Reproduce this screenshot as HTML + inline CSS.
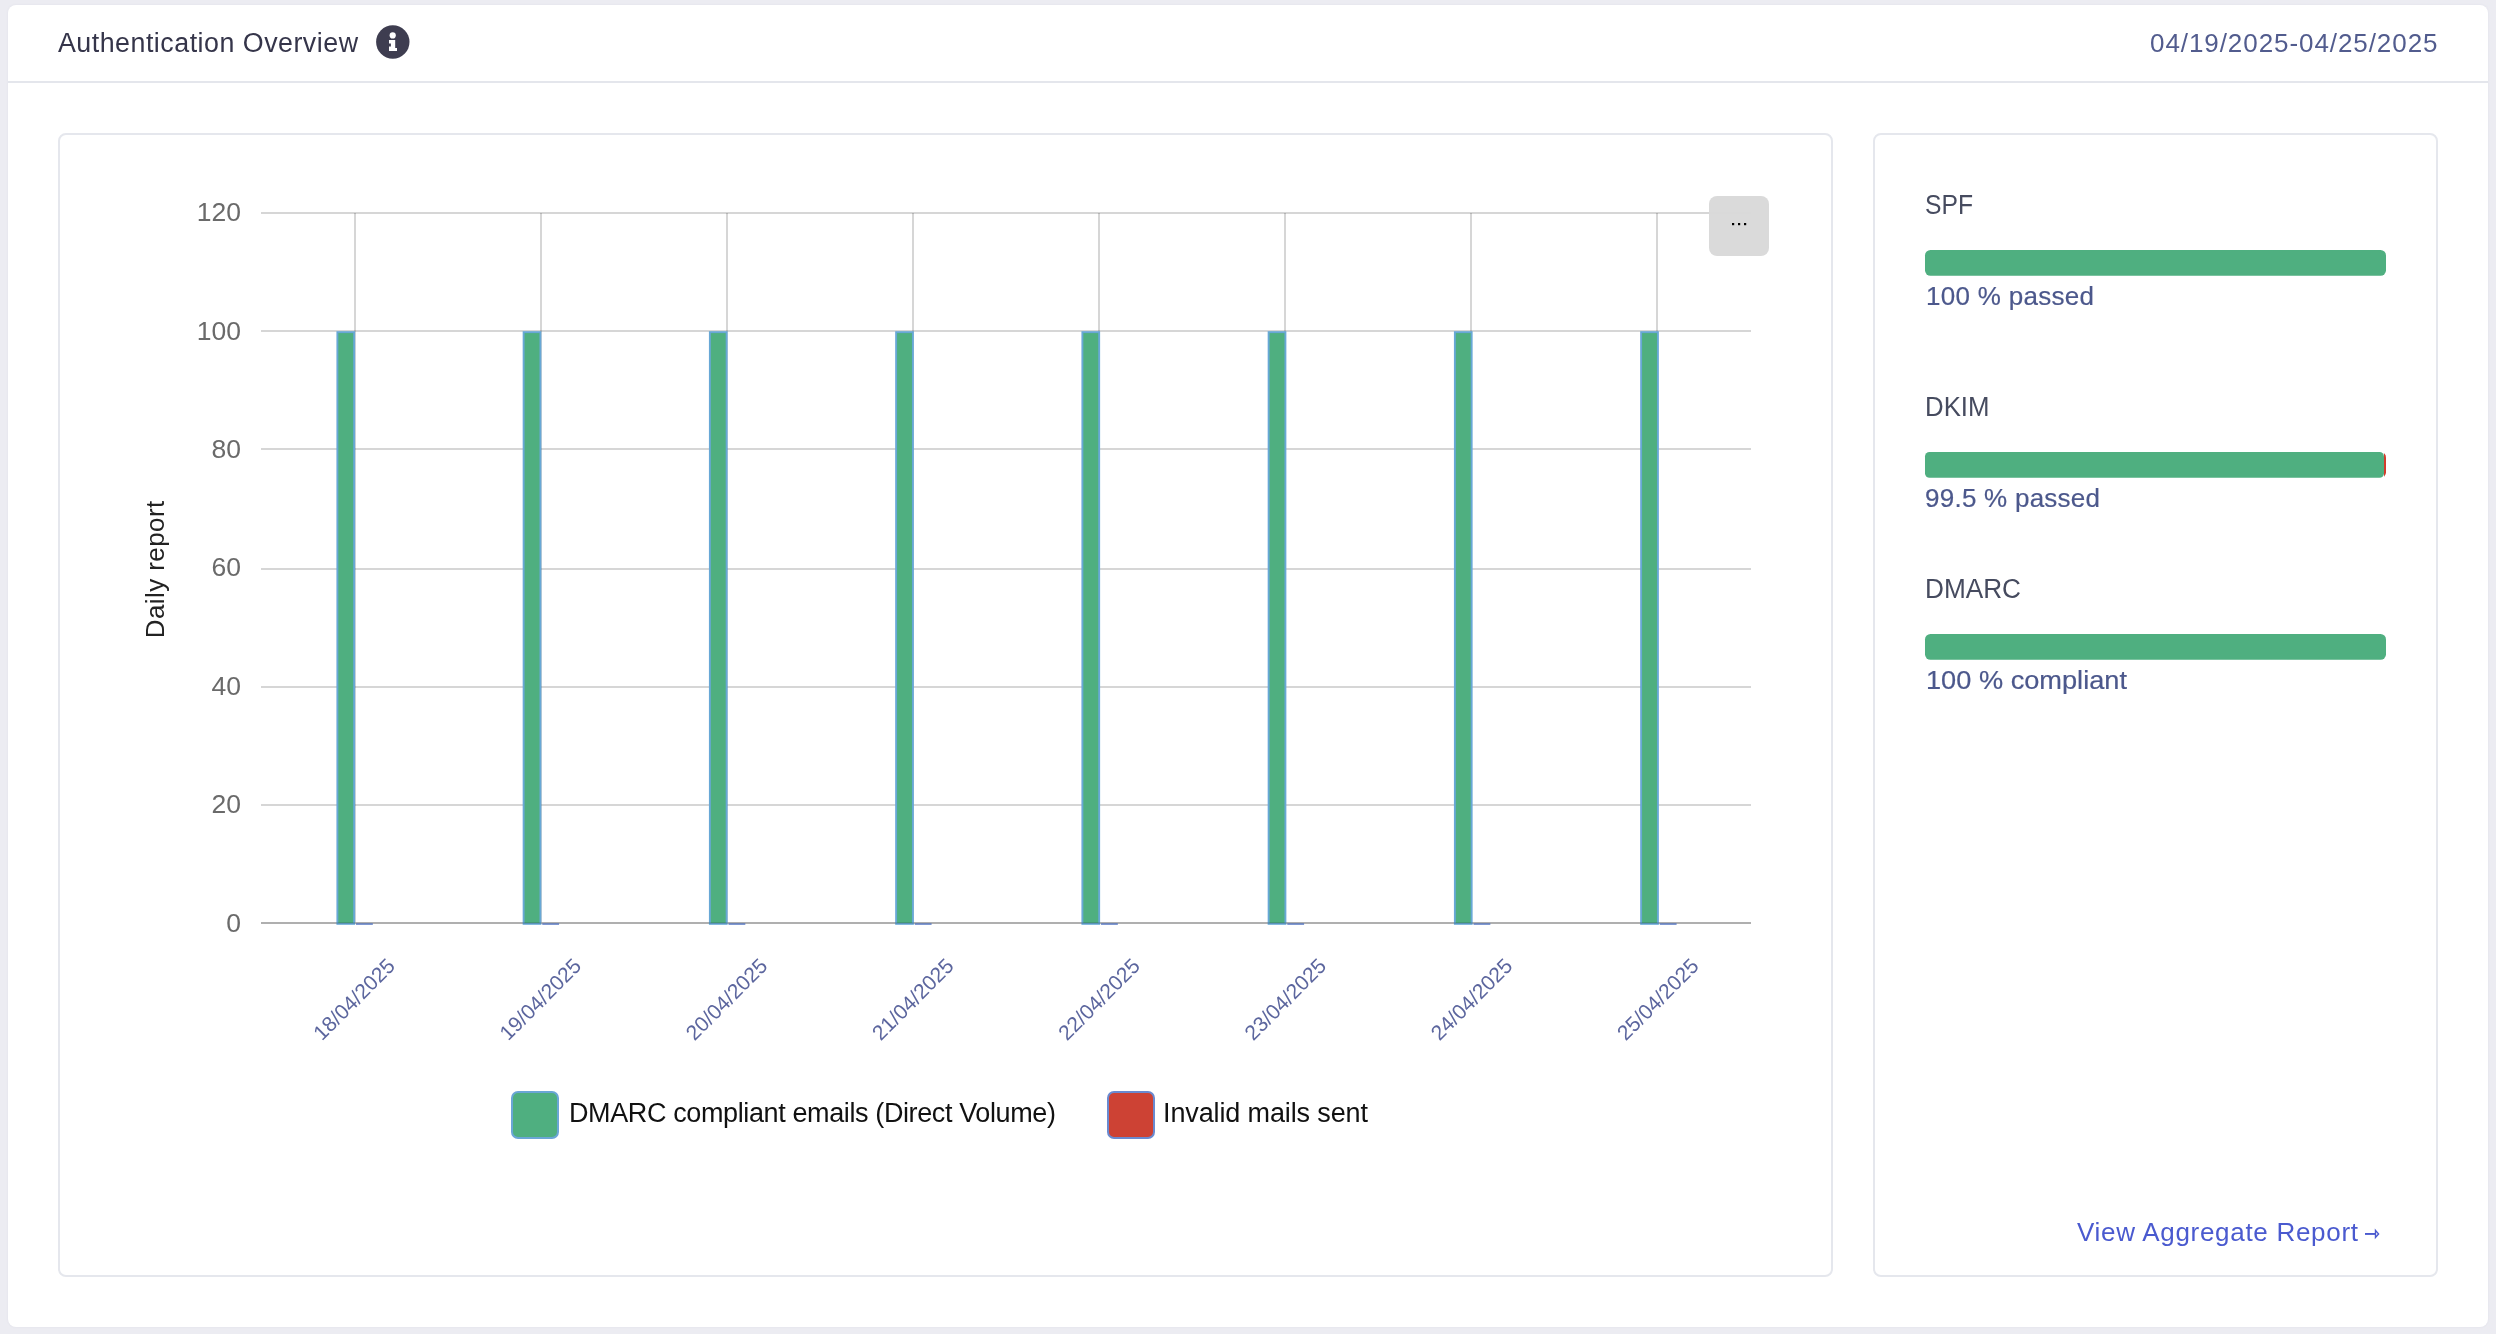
<!DOCTYPE html>
<html>
<head>
<meta charset="utf-8">
<style>
html,body{margin:0;padding:0;width:2496px;height:1334px;overflow:hidden;background:#ececf2;}
body{position:relative;font-family:"Liberation Sans",sans-serif;}
#card{position:absolute;left:8px;top:5px;width:2480px;height:1322px;background:#fff;border-radius:8px;box-shadow:0 0 3px rgba(40,40,80,0.05);}
svg{position:absolute;left:0;top:0;will-change:transform;}
text{font-family:"Liberation Sans",sans-serif;}
</style>
</head>
<body>
<div id="card"></div>
<svg width="2496" height="1334" viewBox="0 0 2496 1334">
  <!-- header -->
  <text x="58" y="52" font-size="26.8" fill="#35354a" textLength="300" lengthAdjust="spacing">Authentication Overview</text>
  <g>
    <circle cx="392.8" cy="42" r="16.7" fill="#3e3d50"/>
    <circle cx="392.7" cy="35.4" r="3.1" fill="#fff"/>
    <path d="M389,40.1 H395.2 V48 H397 V51 H389 V46.5 H390.9 V43.5 H389 Z" fill="#fff"/>
  </g>
  <text x="2437.5" y="52" font-size="26" fill="#525c8e" text-anchor="end" textLength="287.5" lengthAdjust="spacing">04/19/2025-04/25/2025</text>
  <rect x="8" y="81" width="2480" height="2" fill="#e4e6ec"/>

  <!-- chart card -->
  <rect x="59" y="134" width="1773" height="1142" rx="7" ry="7" fill="#fff" stroke="#e5e7ed" stroke-width="2"/>
  <!-- right card -->
  <rect x="1874" y="134" width="563" height="1142" rx="7" ry="7" fill="#fff" stroke="#e5e7ed" stroke-width="2"/>

  <!-- chart gridlines -->
  <g id="grid" fill="rgba(0,0,0,0.16)" shape-rendering="crispEdges">
    <rect x="261" y="212" width="1490" height="2"/>
    <rect x="261" y="330" width="1490" height="2"/>
    <rect x="261" y="448" width="1490" height="2"/>
    <rect x="261" y="568" width="1490" height="2"/>
    <rect x="261" y="686" width="1490" height="2"/>
    <rect x="261" y="804" width="1490" height="2"/>
    <rect x="354" y="213" width="2" height="709"/>
    <rect x="540" y="213" width="2" height="709"/>
    <rect x="726" y="213" width="2" height="709"/>
    <rect x="912" y="213" width="2" height="709"/>
    <rect x="1098" y="213" width="2" height="709"/>
    <rect x="1284" y="213" width="2" height="709"/>
    <rect x="1470" y="213" width="2" height="709"/>
    <rect x="1656" y="213" width="2" height="709"/>
  </g>
  <!-- y labels -->
  <g font-size="26.5" fill="#6a6a6a" text-anchor="end">
    <text x="241" y="221.2">120</text>
    <text x="241" y="339.6">100</text>
    <text x="241" y="458.0">80</text>
    <text x="241" y="576.4">60</text>
    <text x="241" y="694.8">40</text>
    <text x="241" y="813.2">20</text>
    <text x="241" y="931.6">0</text>
  </g>
  <text transform="translate(164,569.5) rotate(-90)" font-size="26" fill="#222" text-anchor="middle" textLength="137.5" lengthAdjust="spacing">Daily report</text>

  <rect x="261" y="922" width="1490" height="2" fill="#cacaca" shape-rendering="crispEdges"/>
  <!-- bars -->
  <g id="bars">
    <rect x="336.43" y="331.2" width="18.70" height="593.6" fill="#68a8d6"/><rect x="338.32" y="333.1" width="14.90" height="589.8" fill="#4faf80"/><rect x="356.02" y="923" width="16.8" height="2" fill="#7f98d2"/>
    <rect x="522.67" y="331.2" width="18.70" height="593.6" fill="#68a8d6"/><rect x="524.57" y="333.1" width="14.90" height="589.8" fill="#4faf80"/><rect x="542.27" y="923" width="16.8" height="2" fill="#7f98d2"/>
    <rect x="708.92" y="331.2" width="18.70" height="593.6" fill="#68a8d6"/><rect x="710.82" y="333.1" width="14.90" height="589.8" fill="#4faf80"/><rect x="728.52" y="923" width="16.8" height="2" fill="#7f98d2"/>
    <rect x="895.17" y="331.2" width="18.70" height="593.6" fill="#68a8d6"/><rect x="897.07" y="333.1" width="14.90" height="589.8" fill="#4faf80"/><rect x="914.77" y="923" width="16.8" height="2" fill="#7f98d2"/>
    <rect x="1081.42" y="331.2" width="18.70" height="593.6" fill="#68a8d6"/><rect x="1083.33" y="333.1" width="14.90" height="589.8" fill="#4faf80"/><rect x="1101.03" y="923" width="16.8" height="2" fill="#7f98d2"/>
    <rect x="1267.67" y="331.2" width="18.70" height="593.6" fill="#68a8d6"/><rect x="1269.58" y="333.1" width="14.90" height="589.8" fill="#4faf80"/><rect x="1287.28" y="923" width="16.8" height="2" fill="#7f98d2"/>
    <rect x="1453.92" y="331.2" width="18.70" height="593.6" fill="#68a8d6"/><rect x="1455.83" y="333.1" width="14.90" height="589.8" fill="#4faf80"/><rect x="1473.53" y="923" width="16.8" height="2" fill="#7f98d2"/>
    <rect x="1640.17" y="331.2" width="18.70" height="593.6" fill="#68a8d6"/><rect x="1642.08" y="333.1" width="14.90" height="589.8" fill="#4faf80"/><rect x="1659.78" y="923" width="16.8" height="2" fill="#7f98d2"/>
  </g>

  <!-- axis line overlay -->
  <rect x="261" y="922" width="1490" height="2" fill="rgba(0,0,0,0.13)" shape-rendering="crispEdges"/>

  <!-- x labels -->
  <g id="xlabels" font-size="21" fill="#5c669e" text-anchor="end">
    <text transform="translate(396.32,967.3) rotate(-45)">18/04/2025</text>
    <text transform="translate(582.58,967.3) rotate(-45)">19/04/2025</text>
    <text transform="translate(768.83,967.3) rotate(-45)">20/04/2025</text>
    <text transform="translate(955.08,967.3) rotate(-45)">21/04/2025</text>
    <text transform="translate(1141.33,967.3) rotate(-45)">22/04/2025</text>
    <text transform="translate(1327.58,967.3) rotate(-45)">23/04/2025</text>
    <text transform="translate(1513.83,967.3) rotate(-45)">24/04/2025</text>
    <text transform="translate(1700.08,967.3) rotate(-45)">25/04/2025</text>
  </g>

  <!-- export button -->
  <rect x="1709" y="196" width="60" height="60" rx="8" ry="8" fill="#d9d9d9" fill-opacity="0.97"/>
  <g fill="#000">
    <rect x="1732" y="223" width="2.2" height="2.2"/>
    <rect x="1738" y="223" width="2.2" height="2.2"/>
    <rect x="1744" y="223" width="2.2" height="2.2"/>
  </g>

  <!-- legend -->
  <rect x="512" y="1092" width="46" height="46" rx="6" ry="6" fill="#4faf80" stroke="#6aa6d6" stroke-width="2"/>
  <text x="569" y="1122" font-size="27" fill="#111" textLength="487" lengthAdjust="spacing">DMARC compliant emails (Direct Volume)</text>
  <rect x="1108" y="1092" width="46" height="46" rx="6" ry="6" fill="#cd4234" stroke="#6a8ad0" stroke-width="2"/>
  <text x="1163" y="1122" font-size="27" fill="#111" textLength="205" lengthAdjust="spacing">Invalid mails sent</text>

  <!-- right panel -->
  <g font-size="27" fill="#464b5f">
    <text x="1925" y="214" textLength="48" lengthAdjust="spacingAndGlyphs">SPF</text>
    <text x="1925" y="416" textLength="64.5" lengthAdjust="spacingAndGlyphs">DKIM</text>
    <text x="1925" y="598" textLength="96" lengthAdjust="spacingAndGlyphs">DMARC</text>
  </g>
  <rect x="1925" y="250" width="461" height="25.8" rx="5.5" ry="5.5" fill="#4faf80"/>
  <clipPath id="dkclip"><rect x="1925" y="452" width="461" height="25.8" rx="5.5" ry="5.5"/></clipPath>
  <rect x="2384" y="452" width="2" height="25.8" fill="#d23c2c" clip-path="url(#dkclip)"/>
  <rect x="1925" y="452" width="459" height="25.8" rx="4.5" ry="4.5" fill="#4faf80"/>
  <rect x="1925" y="634" width="461" height="25.8" rx="5.5" ry="5.5" fill="#4faf80"/>
  <g font-size="26" fill="#4c588c" stroke="#4c588c" stroke-width="0.2">
    <text x="1926" y="305" textLength="168" lengthAdjust="spacing">100 % passed</text>
    <text x="1925" y="507" textLength="175" lengthAdjust="spacing">99.5 % passed</text>
    <text x="1926" y="689" textLength="201" lengthAdjust="spacingAndGlyphs">100 % compliant</text>
  </g>
  <text x="2077" y="1241" font-size="26" fill="#4a5acf" textLength="281" lengthAdjust="spacing">View Aggregate Report</text>
  <rect x="2365" y="1233" width="10.5" height="1.9" fill="#4a5acf"/>
  <path d="M2375.5,1230.4 L2378.6,1233.95 L2375.5,1237.5 Z" fill="none" stroke="#4a5acf" stroke-width="1.4" stroke-linejoin="miter"/>
</svg>
</body>
</html>
